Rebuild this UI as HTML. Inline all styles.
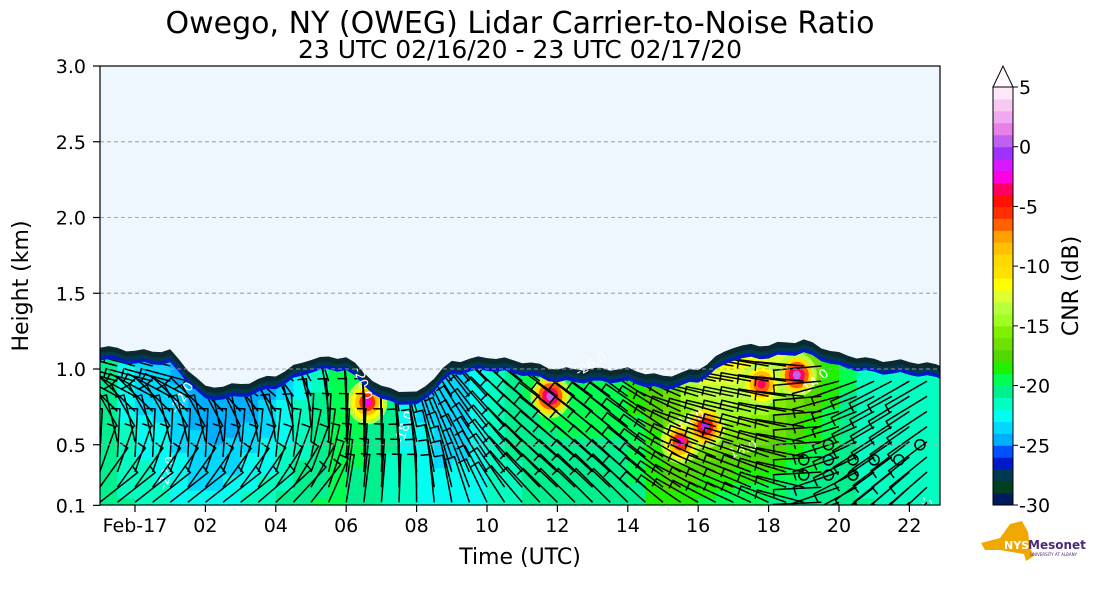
<!DOCTYPE html>
<html><head><meta charset="utf-8"><style>
html,body{margin:0;padding:0;background:#fff;}
svg{display:block;font-family:"DejaVu Sans","Liberation Sans",sans-serif;}
</style></head><body>
<svg id="chart" width="1093" height="600" viewBox="0 0 1093 600" xmlns="http://www.w3.org/2000/svg">
<text x="520" y="33" font-size="30" text-anchor="middle">Owego, NY (OWEG) Lidar Carrier-to-Noise Ratio</text>
<text x="520" y="58" font-size="25" text-anchor="middle">23 UTC 02/16/20 - 23 UTC 02/17/20</text>
<defs><clipPath id="plotclip"><rect x="100" y="66" width="840" height="439"/></clipPath><clipPath id="cloudclip"><polygon id="cloudpoly" points=""/></clipPath></defs>
<rect x="100" y="66" width="840" height="439" fill="#eef6fe"/>
<g id="grid"></g>
<g id="field" clip-path="url(#plotclip)"></g>
<g clip-path="url(#plotclip)"><g id="barbs"></g></g>
<g id="gridtop"></g>
<rect x="100" y="66" width="840" height="439" fill="none" stroke="#000" stroke-width="1.2"/>
<g id="axes"></g>
<text transform="translate(28,286) rotate(-90)" font-size="22" text-anchor="middle">Height (km)</text>
<text x="520" y="564" font-size="22" text-anchor="middle">Time (UTC)</text>
<g id="cbar"></g>
<text transform="translate(1078,286) rotate(-90)" font-size="22" text-anchor="middle">CNR (dB)</text>
<g>
<polygon points="981,543 1000,538 1010,524 1022,521 1028,532 1030,548 1034,556 1026,561 1024,554 1000,550 985,550" fill="#f0a800"/>
<text x="1004" y="549" font-size="11" font-weight="bold" fill="#fff">NYS</text>
<text x="1028" y="549" font-size="12" font-weight="bold" fill="#4a2a7a">Mesonet</text>
<text x="1030" y="556" font-size="4" fill="#4a2a7a">UNIVERSITY AT ALBANY</text>
</g>
</svg>
<script>
// ---- data ----
const hours = [-1,0,1,2,3,4,5,6,7,8,9,10,11,12,13,14,15,16,17,18,19,20,21,22,23];
const topHeight = [1.15,1.12,1.12,0.88,0.9,0.96,1.07,1.08,0.88,0.84,1.05,1.08,1.05,1.0,1.0,1.0,0.95,1.0,1.15,1.16,1.19,1.1,1.06,1.05,1.02];
const cnrLow = [-21,-21,-22,-23,-22,-21,-20,-20,-21,-22,-23,-22,-21,-21,-21,-21,-18,-19,-20,-20,-21,-21,-21,-22,-22];
const cnrHigh = [-19,-24,-24,-25,-25,-24,-22,-19,-20,-23,-24,-22,-20,-19,-19,-19,-17,-13,-11,-12,-15,-19,-22,-22,-22];
const spotHour = [6.6,11.8,15.5,16.2,17.8,18.8];
const spotHeight = [0.78,0.82,0.52,0.62,0.9,0.96];
const spotCnr = [-3,0,-3,-1,-4,0];
const barbAngLow = [35,35,35,35,35,40,50,80,85,90,100,115,130,135,135,135,140,150,155,155,165,200,220,225,225];
const barbAngHigh = [165,165,165,165,160,150,120,95,95,110,125,135,140,145,145,145,150,165,170,170,175,195,205,210,210];
const circleHour = [19,19.7,20.4,21,21.7,22.3,19,19.7,20.4,19.7];
const circleHeight = [0.3,0.3,0.3,0.4,0.4,0.5,0.4,0.4,0.4,0.5];
const yTicks = [0.1,0.5,1.0,1.5,2.0,2.5,3.0];
const xTickHours = [0,2,4,6,8,10,12,14,16,18,20,22];
const xTickLabels = ["Feb-17","02","04","06","08","10","12","14","16","18","20","22"];
const cbarTicks = [5,0,-5,-10,-15,-20,-25,-30];
const cbarColors = ["#001a5e","#004020","#003a50","#0018c8","#0050ff","#00b0ff","#00d8ff","#00fff0","#00ffc0","#00f090","#00ff50","#20f000","#50d800","#70e000","#80f000","#a0ff20","#b8ff40","#e0ff30","#ffff00","#ffe000","#ffd800","#ffc000","#ffa000","#ff6000","#ff3000","#ff1000","#ff0060","#ff00e0","#d818ff","#a030ff","#c060f0","#e880e8","#f0a8f0","#f8c8f0","#fce8f8"];
// ---- scales ----
const X0=100,X1=940,Y0=66,Y1=505;
const xs = h => 135 + h*35.2;
const ys = km => 520.5 - km*151.5;
const NS='http://www.w3.org/2000/svg';
function mk(tag, attrs, parent){const e=document.createElementNS(NS,tag);for(const k in attrs)e.setAttribute(k,attrs[k]);parent.appendChild(e);return e;}
function colorFor(v){let i=Math.floor(v+30);i=Math.max(0,Math.min(34,i));return cbarColors[i];}
function lerpArr(arr,h){for(let i=0;i<hours.length-1;i++){if(h>=hours[i]&&h<=hours[i+1]){const t=(h-hours[i])/(hours[i+1]-hours[i]);return arr[i]+(arr[i+1]-arr[i])*t;}}return arr[arr.length-1];}
function topAt(h){return lerpArr(topHeight,h);}
const field=document.getElementById('field');
const grid=document.getElementById('grid');
const gridtop=document.getElementById('gridtop');
yTicks.slice(1,-1).forEach(v=>{
  const l=mk('line',{x1:X0,x2:X1,y1:ys(v),y2:ys(v),stroke:'#aaa','stroke-dasharray':'4,3','stroke-width':1},grid);
  
  
});
function poly(offset,color,name){
  let pts=[];
  for(let h=-1;h<=23;h+=0.25){const j=Math.sin(h*7.3)*0.012;pts.push(xs(h).toFixed(1)+','+ys(topAt(h)-offset+j).toFixed(1));}
  pts.push(xs(23)+','+Y1,xs(-1)+','+Y1);
  const p=mk('polygon',{points:pts.join(' '),fill:color},field);
  
  
  return pts.join(' ');
}
poly(0,'#0a2a30','cloud-edge-dark');
poly(0.035,'#003a50','cloud-edge-teal');
poly(0.06,'#0018c8','cloud-edge-blue');
const inner=poly(0.085,'#00b0ff','cloud-edge-lightblue');
document.getElementById('cloudpoly').setAttribute('points',inner);
const cells=mk('g',{'clip-path':'url(#cloudclip)'},field);
for(let h=-1;h<23;h+=0.5){
  const top=topAt(h+0.25)-0.09;
  for(let k=0.1;k<top+0.05;k+=0.05){
    const frac=Math.min(1,Math.max(0,(k-0.1)/Math.max(0.2,top-0.1)));
    const v=lerpArr(cnrLow,h+0.25)*(1-frac)+lerpArr(cnrHigh,h+0.25)*frac;
    const r=mk('rect',{x:xs(h).toFixed(1),y:ys(k+0.05).toFixed(1),width:18.2,height:8.2,fill:colorFor(v)},cells);
    
    
  }
}
spotHour.forEach((h,i)=>{
  const base=-14, peak=spotCnr[i];
  const steps=5;
  for(let s=0;s<steps;s++){
    const v=base+(peak-base)*s/(steps-1);
    const rx=20*(1-s/steps), ry=22*(1-s/steps);
    const e=mk('ellipse',{cx:xs(h),cy:ys(spotHeight[i]),rx:rx,ry:ry,fill:colorFor(v)},cells);
    
    
  }
});
yTicks.slice(1,-1).forEach(v=>{
  const l=mk('line',{x1:X0,x2:X1,y1:ys(v),y2:ys(v),stroke:'#aaa','stroke-dasharray':'4,3','stroke-width':1,opacity:0.8},gridtop);
  
  
});
// barbs
const barbs=document.getElementById('barbs');
barbs.setAttribute('clip-path','url(#cloudclip)');
for(let h=-1;h<23;h+=0.5){
  const top=topAt(h)-0.08;
  for(let k=0.12;k<top;k+=0.1){
    const frac=Math.min(1,(k-0.1)/0.8);
    const ang=(lerpArr(barbAngLow,h)*(1-frac)+lerpArr(barbAngHigh,h)*frac)*Math.PI/180;
    const x=xs(h), y=ys(k), L=48;
    const x2=x+Math.cos(ang)*L, y2=y-Math.sin(ang)*L;
    const px=-Math.sin(ang)*9, py=-Math.cos(ang)*9;
    const b=mk('path',{d:`M${x.toFixed(1)},${y.toFixed(1)}L${x2.toFixed(1)},${y2.toFixed(1)}l${px.toFixed(1)},${py.toFixed(1)}`,stroke:'#000','stroke-width':1.5,fill:'none'},barbs);
    
    
  }
}
circleHour.forEach((h,i)=>{
  const c=mk('circle',{cx:xs(h),cy:ys(circleHeight[i]),r:5,fill:'none',stroke:'#000','stroke-width':1.5},document.getElementById('chart'));
  
  
});
[["-22.0",1.2,0.7,-60],["-22.0",0.9,0.2,-75],["-20.0",6.2,1.0,70],["-18.0",7.6,0.5,-70],["-26.0",12.6,0.95,-30],["-22.0",15.3,0.6,-20],["-18.0",16.8,0.4,-20],["-14.0",19.0,0.82,-40],["-22.0",22.3,0.15,70]].forEach(d=>{
  const t=mk('text',{x:xs(d[1]),y:ys(d[2]),fill:'#fff','font-size':13,transform:`rotate(${d[3]} ${xs(d[1])} ${ys(d[2])})`},field);
  t.textContent=d[0];
  
  
});
// axes
const axes=document.getElementById('axes');
yTicks.forEach(v=>{
  const l=mk('line',{x1:X0-7,x2:X0,y1:ys(v),y2:ys(v),stroke:'#000','stroke-width':1.2},axes);
  
  
  const t=mk('text',{x:X0-14,y:ys(v)+7,'font-size':19,'text-anchor':'end'},axes);
  t.textContent=v.toFixed(1);
  
  
});
xTickHours.forEach((h,i)=>{
  const l=mk('line',{x1:xs(h),x2:xs(h),y1:Y1,y2:Y1+7,stroke:'#000','stroke-width':1.2},axes);
  
  
  const t=mk('text',{x:xs(h),y:Y1+27,'font-size':19,'text-anchor':'middle'},axes);
  t.textContent=xTickLabels[i];
  
  
});
// colorbar
const cbar=document.getElementById('cbar');
const CX=993,CW=20,cy=v=>505-(v+30)*(418/35);
cbarColors.forEach((c,i)=>{
  const r=mk('rect',{x:CX,y:cy(i-29),width:CW,height:418/35+0.5,fill:c},cbar);
  
  
});
const tri=mk('polygon',{points:`${CX},87 ${CX+CW/2},66 ${CX+CW},87`,fill:'#fff8fe',stroke:'#000','stroke-width':1},cbar);


const fr=mk('rect',{x:CX,y:87,width:CW,height:418,fill:'none',stroke:'#000','stroke-width':1},cbar);


cbarTicks.forEach(v=>{
  const l=mk('line',{x1:CX+CW,x2:CX+CW+5,y1:cy(v),y2:cy(v),stroke:'#000'},cbar);
  
  
  const t=mk('text',{x:CX+CW+6,y:cy(v)+7,'font-size':19},cbar);
  t.textContent=v;
  
  
});
</script>
</body></html>
